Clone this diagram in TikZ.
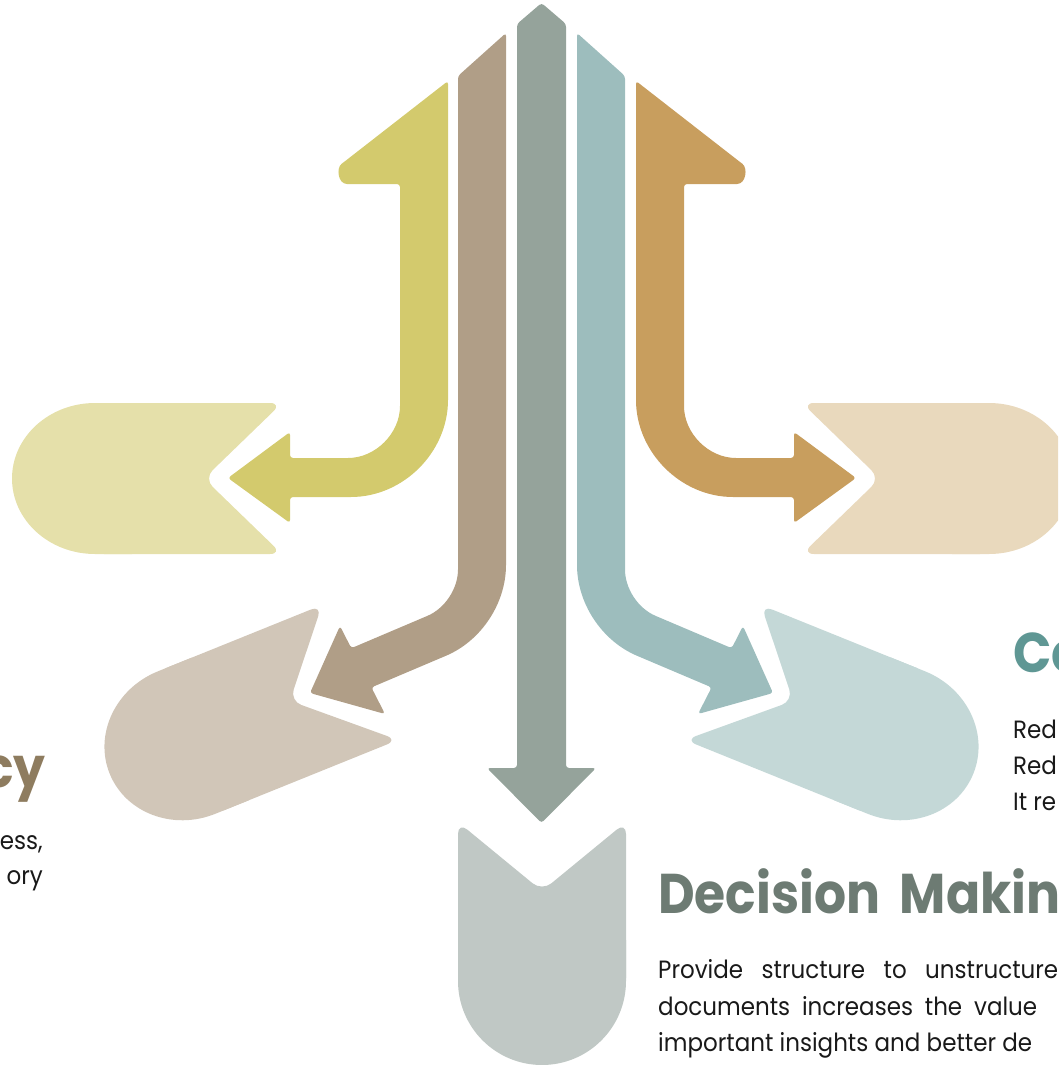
\documentclass[tikz,border=0pt]{standalone}
\usepackage{fontspec}
\setmainfont{Poppins}[FakeStretch=0.92]
\newfontfamily\titlefont{Poppins}[FakeStretch=0.9]
\usepackage{tikz}
\usetikzlibrary{positioning}
\definecolor{StemGray}{HTML}{95A39B}
\definecolor{StemBrown}{HTML}{B09E87}
\definecolor{StemTeal}{HTML}{9DBDBD}
\definecolor{StemYellow}{HTML}{D3CA6D}
\definecolor{StemOrange}{HTML}{C89E5E}
\definecolor{TabYellow}{HTML}{E5E0AA}
\definecolor{TabOrange}{HTML}{E9D9BD}
\definecolor{TabBrown}{HTML}{D1C6B8}
\definecolor{TabTeal}{HTML}{C4D8D7}
\definecolor{TabGray}{HTML}{C0C8C5}
\definecolor{TitleGray}{HTML}{6D7B73}
\definecolor{TitleTeal}{HTML}{5F9794}
\definecolor{TitleBrown}{HTML}{8E7C5F}
\tikzstyle{stem} = [rounded corners=3pt]
\tikzstyle{notch} = [rounded corners=12pt]
\tikzstyle{title} = [inner sep=0pt, font=\titlefont\fontsize{56}{60}\selectfont\bfseries]
\tikzstyle{body} = [inner sep=0pt, text=black!90, font=\fontsize{25}{30}\selectfont]

\begin{document}
\begin{tikzpicture}[x=1pt, y=-1pt]
	\useasboundingbox (0,0) rectangle (1058,1065);
	\clip (0,0) rectangle (1058,1065);

	% tabs: round end, then notched end
	\begin{scope}[shift={(282,478.5)}]
		\fill[TabYellow] (-187,75.5) .. controls (-232.8,75.5) and (-270,41.7) .. (-270,0) .. controls (-270,-41.7) and (-232.8,-75.5) .. (-187,-75.5) -- (-150,-75.5) -- (-150,75.5) -- cycle;
		\fill[TabYellow, notch] (-190,-75.5) -- (0,-75.5) -- (-78,0) -- (0,75.5) -- (-190,75.5) -- cycle;
	\end{scope}
	\begin{scope}[shift={(802,478.5)}, xscale=-1]
		\fill[TabOrange] (-187,75.5) .. controls (-232.8,75.5) and (-270,41.7) .. (-270,0) .. controls (-270,-41.7) and (-232.8,-75.5) .. (-187,-75.5) -- (-150,-75.5) -- (-150,75.5) -- cycle;
		\fill[TabOrange, notch] (-190,-75.5) -- (0,-75.5) -- (-78,0) -- (0,75.5) -- (-190,75.5) -- cycle;
	\end{scope}
	\begin{scope}[shift={(360,672.5)}, rotate=22]
		\fill[TabBrown] (-187,76.8) .. controls (-232.8,76.8) and (-270,42.4) .. (-270,0) .. controls (-270,-42.4) and (-232.8,-76.8) .. (-187,-76.8) -- (-150,-76.8) -- (-150,76.8) -- cycle;
		\fill[TabBrown, notch] (-190,-76.8) -- (-10,-76.8) -- (-75.6,0) -- (10,76.8) -- (-190,76.8) -- cycle;
	\end{scope}
	\begin{scope}[shift={(723,672.5)}, rotate=-22, xscale=-1]
		\fill[TabTeal] (-187,76.8) .. controls (-232.8,76.8) and (-270,42.4) .. (-270,0) .. controls (-270,-42.4) and (-232.8,-76.8) .. (-187,-76.8) -- (-150,-76.8) -- (-150,76.8) -- cycle;
		\fill[TabTeal, notch] (-190,-76.8) -- (-10,-76.8) -- (-75.6,0) -- (10,76.8) -- (-190,76.8) -- cycle;
	\end{scope}
	\fill[TabGray] (458,940) -- (626,940) -- (626,981) .. controls (626,1027.4) and (588.4,1065) .. (542,1065) .. controls (495.6,1065) and (458,1027.4) .. (458,981) -- cycle;
	\fill[TabGray, notch] (458,822) -- (542,891) -- (626,822) -- (626,990) -- (458,990) -- cycle;

	% stems
	\fill[StemGray, stem] (517,24) -- (541.5,3) -- (566,24) -- (566,768) -- (596,768) -- (541.5,823) -- (487,768) -- (517,768) -- cycle;
	\fill[StemBrown, stem] (458,76) -- (506,33) -- (506,562) .. controls (506,603.3) and (481.3,640.8) .. (443.3,656.9) -- (371.4,687.4) -- (385,714) -- (310,693) -- (340,626) -- (351.3,648.2) -- (424.5,617.1) .. controls (444.9,608.5) and (458,588.6) .. (458,566.5) -- cycle;
	\fill[StemTeal, stem] (625,76) -- (577,33) -- (577,562) .. controls (577,603.3) and (601.7,640.8) .. (639.7,656.9) -- (711.6,687.4) -- (698,714) -- (773,693) -- (743,626) -- (731.7,648.2) -- (658.5,617.1) .. controls (638.1,608.5) and (625,588.6) .. (625,566.5) -- cycle;
	\fill[StemYellow, stem] (448,81) -- (344,162) .. controls (336,168) and (338,184) .. (350,184) -- (400,184) -- (400,403) .. controls (400,433.4) and (375.4,458) .. (345,458) -- (290,458) -- (290,432) -- (228,478) -- (290,523) -- (290,497) -- (348,497) .. controls (403.2,497) and (448,452.2) .. (448,397) -- cycle;
	\fill[StemOrange, stem] (636,81) -- (740,162) .. controls (748,168) and (746,184) .. (734,184) -- (684,184) -- (684,403) .. controls (684,433.4) and (708.6,458) .. (739,458) -- (794,458) -- (794,432) -- (856,478) -- (794,523) -- (794,497) -- (736,497) .. controls (680.8,497) and (636,452.2) .. (636,397) -- cycle;

	% texts
	\node (TitleLeft) [title, text=TitleBrown, anchor=base east] at (46,787) {cy};
	\node (LeftLine1) [body, anchor=base east] at (43,849) {ess,};
	\node (LeftLine2) [body, anchor=base east] at (43,884) {ory};

	\node (TitleRight) [title, text=TitleTeal, anchor=base west] at (1013,672) {Co};
	\node (RightLine1) [body, anchor=base west] at (1013,738) {Red};
	\node (RightLine2) [body, anchor=base west] at (1013,774) {Red};
	\node (RightLine3) [body, anchor=base west] at (1013,810) {It re};

	\node (TitleDecision) [title, text=TitleGray, anchor=base west] at (658,913) {Decision\hspace{9pt} Makin};
	\node (DecisionLine1) [body, anchor=base west] at (658,978) {\makebox[400pt][s]{Provide structure to unstructure}};
	\node (DecisionLine2) [body, anchor=base west] at (658,1015) {\makebox[379pt][s]{documents increases the value}};
	\node (DecisionLine3) [body, anchor=base west] at (658,1051) {\makebox[374pt][s]{important insights and better de}};
\end{tikzpicture}
\end{document}
